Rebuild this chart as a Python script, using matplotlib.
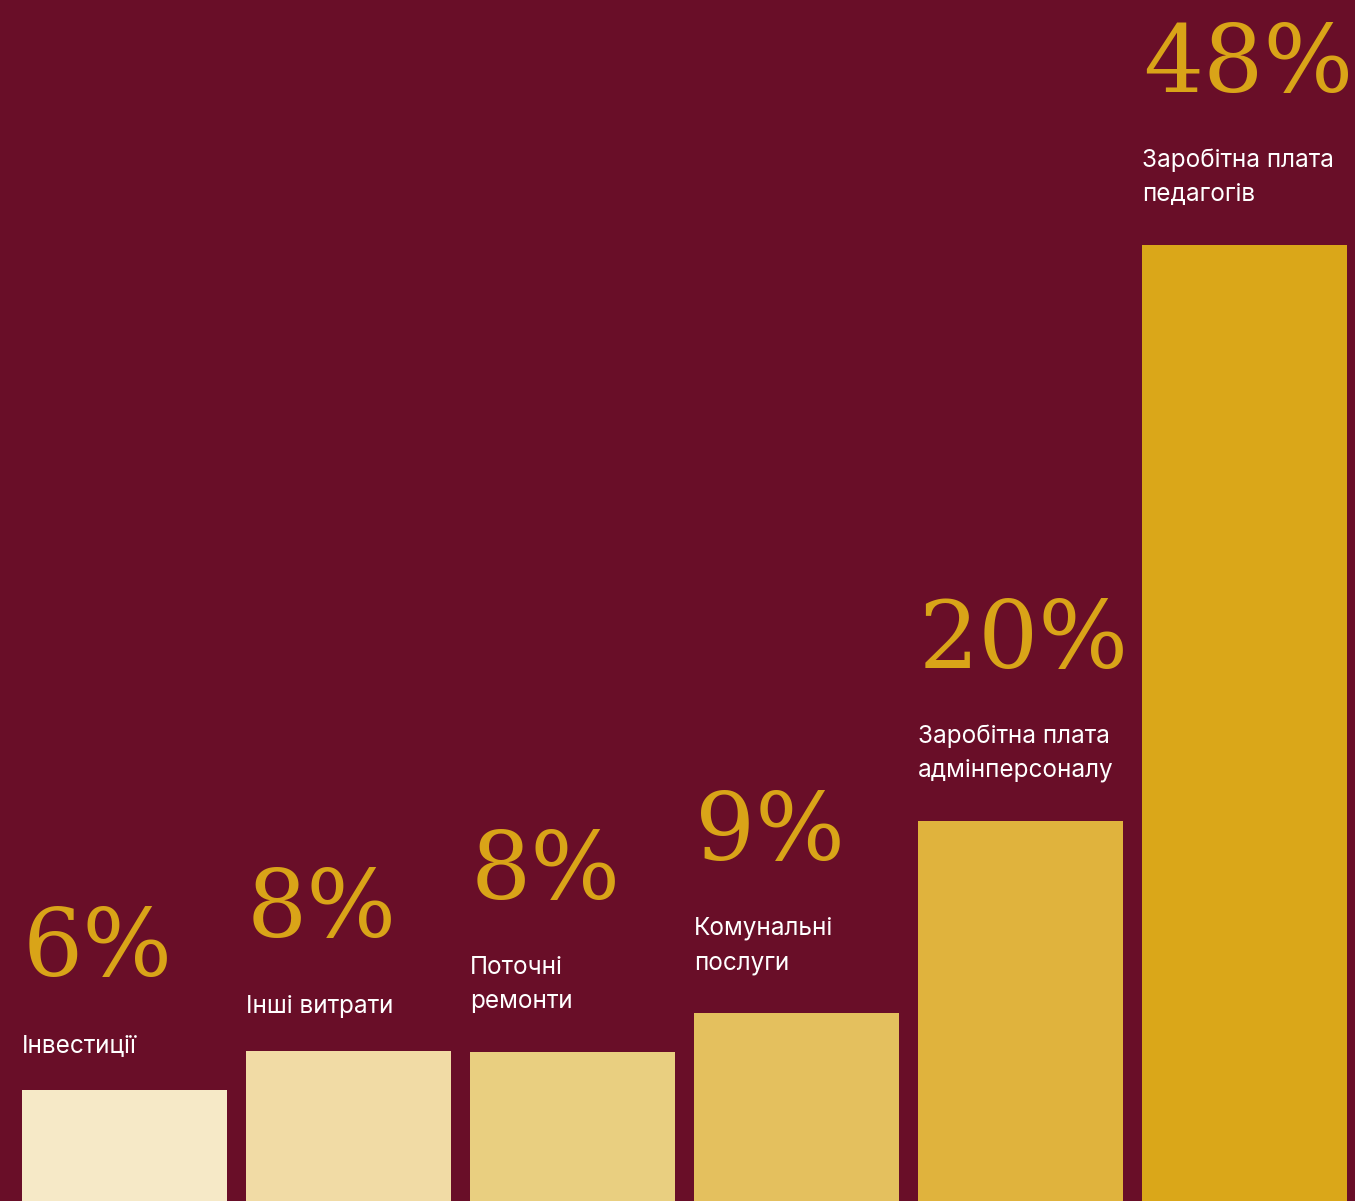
import numpy as np
import matplotlib.pyplot as plt

# Дані
categories = ['Інвестиції', 'Інші витрати', 'Поточні\nремонти', 'Комунальні\nпослуги',
              'Заробітна плата\nадмінперсоналу', 'Заробітна плата\nпедагогів']
values = [5.66, 7.65, 7.60, 9.59, 19.39, 48.78]   # висота стовпців (оцінка з картинки)
pct_labels = ['6%', '8%', '8%', '9%', '20%', '48%']
bar_colors = ['#F6E9C7', '#F1DBA5', '#E9CF80', '#E4C05E', '#E0B33D', '#DAA719']

bg = '#690E28'
gold = '#D9A418'

fig = plt.figure(figsize=(13.55, 12.01), dpi=100, facecolor=bg)
ax = fig.add_axes([0, 0, 1, 1])
ax.set_facecolor(bg)

x = np.arange(len(categories))
w = 205 / 224
ax.bar(x, values, width=w, color=bar_colors, align='center')

ax.set_xlim(-124.5 / 224, (1355 - 124.5) / 224)
ax.set_ylim(0, 1201 / 19.6)
ax.axis('off')

for i in range(len(categories)):
    left = x[i] - w / 2
    n = categories[i].count('\n')
    lab_off = 38 + 6 * n
    # підпис категорії
    ax.annotate(categories[i], xy=(left, values[i]), xytext=(0, lab_off),
                textcoords='offset pixels', ha='left', va='baseline',
                color='white', fontsize=17.5, family=['Inter', 'DejaVu Sans'],
                linespacing=1.6)
    # відсоток
    ax.annotate(pct_labels[i], xy=(left, values[i]), xytext=(1, lab_off + 33 * n + 76),
                textcoords='offset pixels', ha='left', va='baseline',
                color=gold, fontsize=68, family='DejaVu Serif')

plt.savefig('out.png', dpi=100, facecolor=bg)
